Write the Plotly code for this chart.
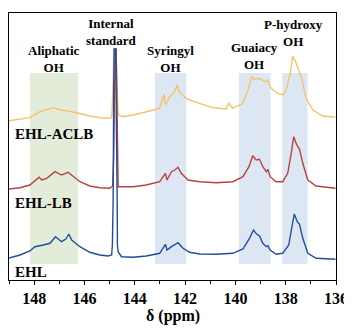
import plotly.graph_objects as go

# ---- data (ppm, intensity with stacking offset) ----
aclb_ppm = [149.0, 148.56, 148.17, 147.77, 147.50, 147.24, 146.98, 146.71, 146.31, 145.79, 145.39, 144.99,
            144.92, 144.90, 144.86, 144.83, 144.75, 144.70, 144.66, 144.48, 144.07, 143.54, 143.01, 142.84,
            142.78, 142.61, 142.41, 142.32, 142.21, 141.95, 141.82, 141.42, 140.89, 140.36, 140.27, 140.10,
            139.70, 139.50, 139.35, 139.24, 139.07, 138.91, 138.77, 138.71, 138.62, 138.51, 138.31, 138.12,
            137.98, 137.82, 137.72, 137.58, 137.45, 137.35, 137.19, 136.92, 136.53, 136.13, 136.02]
aclb_int = [159.3, 160.7, 162.3, 168.3, 170, 172.3, 170, 169.3, 167.3, 164, 162.3, 161.7,
            163.3, 170, 200, 231, 231, 190, 165, 163.3, 165, 168.3, 171.7, 185.7,
            175, 183.3, 188.3, 195, 187.3, 181.7, 180, 176.7, 172.3, 171, 176.7, 171.7,
            176.7, 190, 203.3, 200.7, 201.7, 199.3, 198.3, 200, 193.3, 190, 186.7, 185,
            190, 206.7, 224, 216.7, 208.3, 200, 181.7, 170, 164, 162.7, 162.7]

lb_ppm = [149.0, 148.56, 148.17, 147.90, 147.80, 147.70, 147.50, 147.17, 146.91, 146.65, 146.45, 146.18,
          145.79, 145.39, 144.99, 144.88, 144.84, 144.80, 144.78, 144.74, 144.72, 144.69, 144.66, 144.60,
          144.07, 143.54, 143.01, 142.78, 142.72, 142.54, 142.41, 142.28, 142.15, 141.88, 141.42, 140.76,
          140.10, 139.70, 139.46, 139.31, 139.17, 139.04, 138.91, 138.77, 138.71, 138.62, 138.38, 138.12,
          137.92, 137.78, 137.68, 137.56, 137.45, 137.32, 137.12, 136.79, 136.13, 136.02]
lb_int = [91, 92.3, 95, 100, 102.7, 100, 101.7, 108.3, 105, 107.7, 103.3, 98.3,
          94, 92.3, 91.7, 94, 120, 180, 231, 231, 180, 110, 93.3, 93.3,
          93.3, 95, 98.3, 106.7, 100, 108.3, 110, 112.7, 106.7, 100, 98.3, 97.3,
          98.3, 103.3, 113.3, 124.3, 120, 120.7, 113.3, 108.3, 110.7, 103.3, 98.3, 98.3,
          106.7, 126.7, 143.3, 135, 130.7, 116.7, 100, 94, 91.7, 91.7]

ehl_ppm = [149.0, 148.56, 148.17, 147.97, 147.64, 147.37, 147.15, 146.91, 146.74, 146.62, 146.51, 146.18,
           145.79, 145.39, 145.06, 144.92, 144.89, 144.86, 144.84, 144.82, 144.76, 144.73, 144.70, 144.69,
           144.66, 144.53, 144.07, 143.54, 143.01, 142.78, 142.72, 142.54, 142.28, 142.08, 141.82, 141.42,
           140.76, 140.10, 139.70, 139.44, 139.28, 139.15, 139.04, 138.91, 138.77, 138.71, 138.62, 138.38,
           138.12, 137.88, 137.76, 137.66, 137.54, 137.45, 137.32, 137.12, 136.79, 136.13, 136.02]
ehl_int = [22, 25, 29, 33.3, 35, 36.7, 43.3, 38.3, 41, 46, 40, 33.3,
           27.7, 25, 24, 25, 35, 80, 180, 231, 231, 180, 80, 35,
           28.3, 23.3, 22.7, 24, 26.7, 35.7, 30, 33.3, 37.3, 31.7, 27.7, 26,
           25.7, 26.7, 31, 41.7, 50, 45.7, 44, 36.7, 33.3, 34.3, 30, 25.7,
           26.7, 35, 53.3, 66, 58.3, 55.7, 41.7, 26.7, 21.7, 20.7, 20.7]

series_names = ["EHL-ACLB", "EHL-LB", "EHL"]
series_colors = ["#f4c36b", "#b8423d", "#1f4f9c"]

region_labels = ["Aliphatic<br>OH", "Syringyl<br>OH", "Guaiacy<br>OH", "P-hydroxy<br>OH"]
region_bounds = [(148.17, 146.26), (143.2, 141.95), (139.86, 138.6), (138.14, 137.13)]
region_colors = ["#e2ecd8", "#dce7f3", "#dce7f3", "#dce7f3"]

tick_vals = [148, 146, 144, 142, 140, 138, 136]
tick_text = ["148", "146", "144", "142", "140", "138", "136"]

FONT = "Liberation Serif"

fig = go.Figure()

for (x0, x1), c in zip(region_bounds, region_colors):
    fig.add_shape(type="rect", xref="x", yref="y", x0=x0, x1=x1, y0=16, y1=207,
                  fillcolor=c, line_width=0, layer="below")

for xs, ys, name, col in zip([aclb_ppm, lb_ppm, ehl_ppm], [aclb_int, lb_int, ehl_int],
                             series_names, series_colors):
    fig.add_trace(go.Scatter(x=xs, y=ys, mode="lines", name=name,
                             line=dict(color=col, width=1.4), showlegend=False))

lab_font = dict(family=FONT, size=13, color="black", weight="bold")
# region labels
lab_pos = [(147.20, 221), (142.57, 221), (139.24, 224), (137.67, 247)]
for (lx, ly), txt in zip(lab_pos, region_labels):
    fig.add_annotation(x=lx, y=ly, text=txt, showarrow=False, font=lab_font,
                       xanchor="center", yanchor="middle", align="center")
fig.add_annotation(x=144.92, y=248, text="Internal<br>standard", showarrow=False, font=lab_font,
                   xanchor="center", yanchor="middle", align="center")

name_font = dict(family=FONT, size=15, color="black", weight="bold")
for nm, ny in zip(series_names, [146, 76.7, 8.5]):
    fig.add_annotation(x=148.86, y=ny, text=nm, showarrow=False, font=name_font,
                       xanchor="left", yanchor="middle")

fig.add_annotation(xref="paper", yref="paper", x=0.5, y=0, yshift=-36, text="δ (ppm)",
                   showarrow=False, font=dict(family=FONT, size=16, color="black", weight="bold"),
                   xanchor="center", yanchor="middle")

fig.update_xaxes(range=[149, 136], tickvals=tick_vals, ticktext=tick_text, automargin=False,
                 ticks="outside", ticklen=4, tickwidth=1.2, tickcolor="black",
                 minor=dict(dtick=1, tick0=136, ticks="outside", ticklen=3, tickwidth=1, tickcolor="black"),
                 showline=True, linecolor="black", linewidth=1.3, mirror=True,
                 showgrid=False, zeroline=False,
                 tickfont=dict(family=FONT, size=16, color="black", weight="bold"))
fig.update_yaxes(range=[0, 267], showticklabels=False, ticks="", showgrid=False, zeroline=False,
                 automargin=False,
                 showline=True, linecolor="black", linewidth=1.3, mirror=True)

# page body has an 8px margin, so the figure is 8px smaller and margins shifted
fig.update_layout(width=344, height=321, margin=dict(l=1, r=16, t=5, b=49),
                  plot_bgcolor="white", paper_bgcolor="white")

fig.write_html("out.html")
